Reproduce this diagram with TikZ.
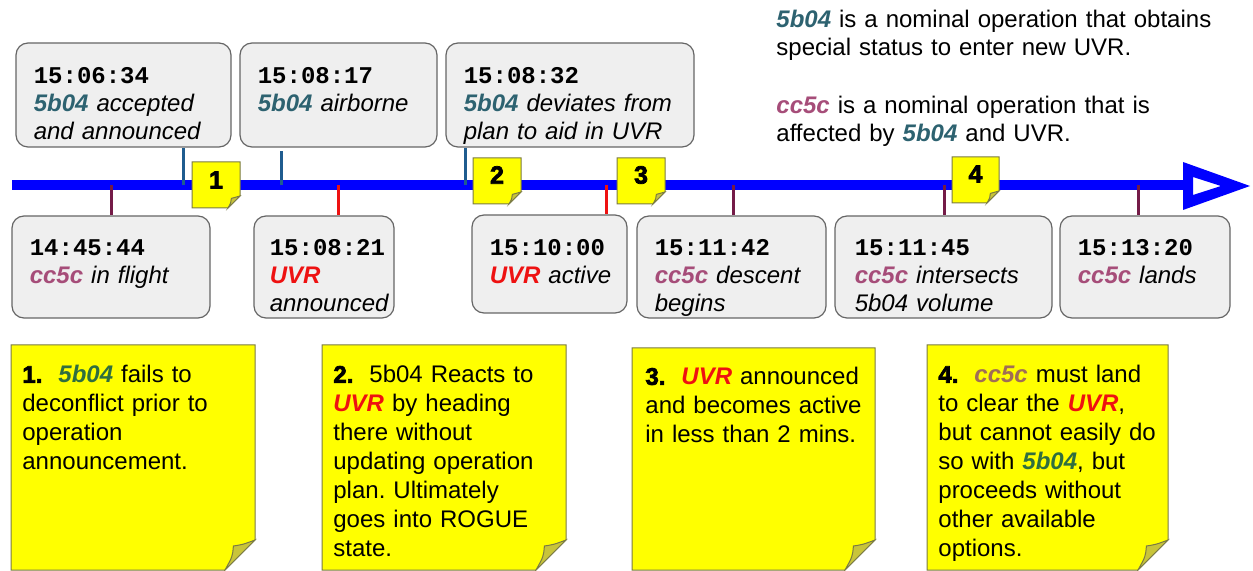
\documentclass[tikz,border=0pt]{standalone}
\usepackage{fontspec}
\setmainfont{Liberation Sans}
\newfontfamily\timefont{Liberation Mono}
\newfontfamily\heavyfont[FakeBold=3]{Liberation Sans}
\definecolor{timeblue}{HTML}{0000FF}
\definecolor{boxfill}{HTML}{EFEFEF}
\definecolor{boxedge}{HTML}{666666}
\definecolor{opteal}{HTML}{2D6270}
\definecolor{opmauve}{HTML}{A64D79}
\definecolor{uvrred}{HTML}{EE1111}
\definecolor{notegreen}{HTML}{2F6E3F}
\definecolor{notemauve}{HTML}{A06E55}
\definecolor{tickblue}{HTML}{1F5C8F}
\definecolor{tickplum}{HTML}{741B47}
\definecolor{notefill}{HTML}{FFFF00}
\definecolor{noteedge}{HTML}{7A7A45}
\definecolor{foldfill}{HTML}{C8C43A}
\newcommand{\fbo}[1][opteal]{\textcolor{#1}{\bfseries\itshape 5b04}}
\newcommand{\ccf}[1][opmauve]{\textcolor{#1}{\bfseries\itshape cc5c}}
\newcommand{\uvr}{\textcolor{uvrred}{\bfseries\itshape UVR}}
\newcommand{\stamp}[1]{{\timefont\bfseries\upshape\fontsize{12}{14}\selectfont #1}}
\newcommand{\notenum}[1]{{\heavyfont\bfseries #1}\hspace{8pt}}
% left, top, right, bottom, fold
\newcommand{\sticky}[5]{%
  \path[fill=notefill, draw=noteedge, line width=0.5pt] (#1,#2) -- (#3,#2) -- (#3,#4-#5) -- (#3-#5,#4) -- (#1,#4) -- cycle;
  \path[fill=foldfill, draw=noteedge, line width=0.5pt] (#3,#4-#5) .. controls (#3-0.4*#5,#4-0.85*#5) .. (#3-0.72*#5,#4-0.8*#5) .. controls (#3-0.75*#5,#4-0.45*#5) .. (#3-#5,#4) -- cycle;
}
\frenchspacing
\begin{document}
\begin{tikzpicture}[x=0.5pt,y=-0.5pt,
    evbox/.style={draw=boxedge, fill=boxfill, line width=0.6pt, rounded corners=6pt, inner sep=0pt},
    evtext/.style={anchor=north west, inner sep=0pt, align=left, text width=#1, font=\fontsize{12}{14}\selectfont\itshape},
    notetext/.style={anchor=north west, inner sep=0pt, align=left, text width=125pt, font=\fontsize{12}{14.5}\selectfont},
    infotext/.style={anchor=north west, inner sep=0pt, align=left, text width=240pt, font=\fontsize{12}{14}\selectfont},
    evtick/.style={line width=1.5pt},
    marknum/.style={inner sep=0pt, font=\heavyfont\bfseries\fontsize{12.5}{14}\selectfont}]
\useasboundingbox (0,0) rectangle (1253,571);

% legend top right
\node[infotext] (info1) at (776,10) {\fbo{} is a nominal operation that obtains\\ special status to enter new UVR.};
\node[infotext] (info2) at (776,96) {\ccf{} is a nominal operation that is\\ affected by \fbo{} and UVR.};

% timeline
\coordinate (tl0) at (12,185.5);
\coordinate (tl1) at (1186,185.5);
\draw[timeblue, line width=5pt] (tl0) -- (tl1);
\fill[timeblue, even odd rule] (1183,162) -- (1250,186) -- (1183,210) -- cycle
  (1193,177) -- (1221,186) -- (1193,195) -- cycle;
\foreach \n/\x in {A/183,B/281,C/465,D/111,E/338,F/606,G/733,H/944,I/1138}
  \coordinate (t\n) at (\x,185.5);

% events above
\node[evbox, minimum width=107.5pt, minimum height=52pt] (bA) at (123.5,95) {};
\node[evbox, minimum width=98.5pt, minimum height=52pt] (bB) at (338.5,95) {};
\node[evbox, minimum width=124pt, minimum height=52pt] (bC) at (570,95) {};
\node[evtext=110pt] (xA) at ([shift={(18,25)}]bA.north west) {\stamp{15:06:34}\\ \fbo{} accepted\\ and announced};
\node[evtext=95pt] (xB) at ([shift={(18,25)}]bB.north west) {\stamp{15:08:17}\\ \fbo{} airborne};
\node[evtext=120pt] (xC) at ([shift={(18,25)}]bC.north west) {\stamp{15:08:32}\\ \fbo{} deviates from\\ plan to aid in UVR};
\draw[evtick, tickblue] (tA) -- (tA |- bA.south);
\draw[evtick, tickblue] (tB) -- ([yshift=-1.5pt]tB |- bB.south);
\draw[evtick, tickblue] (tC) -- (tC |- bC.south);

% events below
\node[evbox, minimum width=99pt, minimum height=51pt] (bD) at (111,267) {};
\node[evbox, minimum width=70pt, minimum height=51pt] (bE) at (324,267) {};
\node[evbox, minimum width=77.5pt, minimum height=49pt] (bF) at (549.5,264) {};
\node[evbox, minimum width=94.5pt, minimum height=51pt] (bG) at (731.5,267) {};
\node[evbox, minimum width=108.5pt, minimum height=51pt] (bH) at (943.5,267) {};
\node[evbox, minimum width=85pt, minimum height=51pt] (bI) at (1145,267) {};
\node[evtext=95pt] (xD) at ([shift={(18,24)}]bD.north west) {\stamp{14:45:44}\\ \ccf{} in flight};
\node[evtext=65pt] (xE) at ([shift={(16,24)}]bE.north west) {\stamp{15:08:21}\\ \uvr\\ announced};
\node[evtext=70pt] (xF) at ([shift={(18,25)}]bF.north west) {\stamp{15:10:00}\\ \uvr{} active};
\node[evtext=90pt] (xG) at ([shift={(18,24)}]bG.north west) {\stamp{15:11:42}\\ \ccf{} descent\\ begins};
\node[evtext=100pt] (xH) at ([shift={(20,24)}]bH.north west) {\stamp{15:11:45}\\ \ccf{} intersects\\ 5b04 volume};
\node[evtext=80pt] (xI) at ([shift={(18,24)}]bI.north west) {\stamp{15:13:20}\\ \ccf{} lands};
\draw[evtick, tickplum] (tD) -- (tD |- bD.north);
\draw[evtick, uvrred] (tE) -- (tE |- bE.north);
\draw[evtick, uvrred] (tF) -- (tF |- bF.north);
\draw[evtick, tickplum] (tG) -- (tG |- bG.north);
\draw[evtick, tickplum] (tH) -- (tH |- bH.north);
\draw[evtick, tickplum] (tI) -- (tI |- bI.north);

% markers on the timeline
\sticky{192}{162}{240}{208}{12}
\sticky{473}{158}{521}{204}{12}
\sticky{617}{158}{665}{204}{12}
\sticky{952}{157}{999}{203}{12}
\node[marknum] (m1) at (216,180) {1};
\node[marknum] (m2) at (497,175) {2};
\node[marknum] (m3) at (641,175) {3};
\node[marknum] (m4) at (975.5,174) {4};

% notes
\sticky{11}{345}{255}{570}{30}
\sticky{322}{345}{566}{570}{30}
\sticky{632}{348}{875}{570}{30}
\sticky{927}{345}{1168}{570}{30}
\node[notetext] (n1) at (22,365) {\notenum{1.}\fbo[notegreen] fails to\\ deconflict prior to\\ operation\\ announcement.};
\node[notetext] (n2) at (333,365) {\notenum{2.}5b04 Reacts to\\ \uvr{} by heading\\ there without\\ updating operation\\ plan. Ultimately\\ goes into ROGUE\\ state.};
\node[notetext] (n3) at (645,367) {\notenum{3.}\uvr{} announced\\ and becomes active\\ in less than 2 mins.};
\node[notetext] (n4) at (938,365) {\notenum{4.}\ccf[notemauve] must land\\ to clear the \uvr,\\ but cannot easily do\\ so with \fbo[notegreen], but\\ proceeds without\\ other available\\ options.};
\end{tikzpicture}
\end{document}
